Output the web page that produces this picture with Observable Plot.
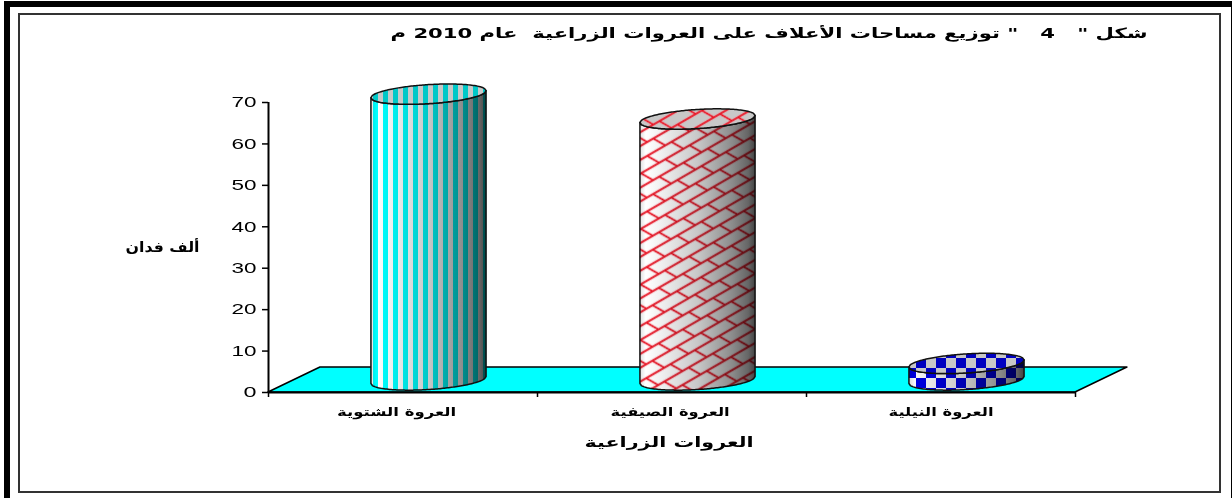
<!DOCTYPE html>
<html lang="ar">
<head>
<meta charset="utf-8">
<script src="https://cdn.jsdelivr.net/npm/d3@7"></script>
<script src="https://cdn.jsdelivr.net/npm/@observablehq/plot@0.6"></script>
<style>
  html, body { margin: 0; padding: 0; background: #fff; width: 1232px; height: 498px; overflow: hidden; }
  #sheet { position: absolute; left: 4px; top: 1px; right: -5px; bottom: -6px; border: 6px solid #000; box-sizing: border-box; }
  #panel { position: absolute; left: 18px; top: 13px; width: 1203px; height: 480px; box-sizing: border-box;
           border: 2px solid #333; }
  #chart { position: absolute; left: 0; top: 0; }
  #chart svg { background: transparent; overflow: visible; }
  .rtl text { direction: rtl; }
</style>
</head>
<body>
<div id="sheet"></div>
<div id="panel"></div>
<div id="chart"></div>
<script>
// Fodder area by agricultural season, thousand feddans
const categories = ["العروة الشتوية", "العروة الصيفية", "العروة النيلية"];
const values = [69, 63, 4];
const yTicks = [0, 10, 20, 30, 40, 50, 60, 70];
const categoryLabelAt = [0.476, 1.493, 2.5];
const chartTitle = 'شكل "   4   " توزيع مساحات الأعلاف على العروات الزراعية  عام 2010 م';
const xTitle = "العروات الزراعية";
const yTitle = "ألف فدان";
const bodyFills = ["url(#stripes)", "url(#bricks)", "url(#checks)"];
const capFills = ["url(#stripesCap)", "url(#bricksCap)", "url(#checksCap)"];

// Cylinder proportions, in axis units
const halfWidth = 0.214;
const capRadius = 2.3;
const capTilt = 0.85;
const floorDepthX = 0.193;
const floorDepthY = 6.03;
const liftX = 26, liftY = -12;

const params = d3.range(-1, 1.0001, 1 / 40);
const arc = (t) => capRadius * Math.sqrt(Math.max(0, 1 - t * t));

const bodyRows = [], capRows = [];
values.forEach((v, i) => {
  for (const t of params) {
    const x = i + 0.5 + t * halfWidth;
    const lean = capTilt * t;
    bodyRows.push({i, x, y1: lean - arc(t), y2: v + lean - arc(t)});
    capRows.push({i, x, y1: v + lean - arc(t), y2: v + lean + arc(t)});
  }
});

const floor = [
  {x: 0, y1: 0, y2: 0},
  {x: floorDepthX, y1: 0, y2: floorDepthY},
  {x: 3, y1: 0, y2: floorDepthY},
  {x: 3 + floorDepthX, y1: floorDepthY, y2: floorDepthY}
];

const lift = {dx: liftX, dy: liftY};
const cylinderMarks = values.flatMap((_, i) => {
  const body = bodyRows.filter((d) => d.i === i);
  const cap = capRows.filter((d) => d.i === i);
  const shape = {x: "x", y1: "y1", y2: "y2", ...lift};
  return [
    Plot.areaY(body, {...shape, fill: bodyFills[i]}),
    Plot.areaY(body, {...shape, fill: "url(#shade)", mixBlendMode: "multiply"}),
    Plot.areaY(body, {...shape, fill: "none", stroke: "#111", strokeWidth: 1.5}),
    Plot.areaY(cap, {...shape, fill: capFills[i], stroke: "#111", strokeWidth: 1.5})
  ];
});

const plot = Plot.plot({
  width: 1232,
  height: 498,
  marginLeft: 268,
  marginRight: 157,
  marginTop: 102,
  marginBottom: 106,
  style: {background: "transparent", color: "#000"},
  x: {domain: [0, 3]},
  y: {domain: [0, 70]},
  marks: [
    Plot.areaY(floor, {x: "x", y1: "y1", y2: "y2", fill: "#00ffff", stroke: "#000", strokeWidth: 1.5}),
    ...cylinderMarks,
    Plot.ruleX([0], {y1: 0, y2: 70, stroke: "#000", strokeWidth: 2}),
    Plot.ruleY([0], {x1: 0, x2: 3, stroke: "#000", strokeWidth: 2}),
    Plot.axisY({
      ticks: yTicks, tickSize: 6, tickPadding: 6, label: null,
      fontSize: 15, fontFamily: "Liberation Sans", className: "ticksY", strokeWidth: 1.5
    }),
    Plot.axisX({ticks: [0, 1, 2, 3], tickSize: 5, tickFormat: () => "", label: null, strokeWidth: 1.5}),
    Plot.axisX({
      ticks: categoryLabelAt, tickSize: 0, tickPadding: 15, label: null,
      tickFormat: (d, i) => categories[i],
      fontSize: 12, fontWeight: "bold", fontFamily: "DejaVu Sans", className: "ticksX"
    }),
    Plot.text([xTitle], {
      text: (d) => d, frameAnchor: "bottom", dx: -3, dy: 54,
      fontSize: 14, fontWeight: "bold", fontFamily: "DejaVu Sans", className: "xTitle"
    }),
    Plot.text([yTitle], {
      text: (d) => d, frameAnchor: "left", dx: -106, textAnchor: "middle",
      fontSize: 14, fontWeight: "bold", fontFamily: "DejaVu Sans", className: "yTitle"
    }),
    Plot.text([chartTitle], {
      text: (d) => d, frameAnchor: "top-right", dx: 72, dy: -74, textAnchor: "start",
      fontSize: 14, fontWeight: "bold", fontFamily: "DejaVu Sans", className: "rtl"
    })
  ]
});

// Fill patterns and the round-body shading referenced by the areas above
const defs = d3.select(plot).insert("defs", ":first-child");

function stripes(id, colorA, colorB) {
  const p = defs.append("pattern").attr("id", id).attr("patternUnits", "userSpaceOnUse")
    .attr("width", 10).attr("height", 10).attr("patternTransform", "translate(7,0)");
  p.append("rect").attr("width", 10).attr("height", 10).attr("fill", colorB);
  p.append("rect").attr("width", 5).attr("height", 10).attr("fill", colorA);
}
stripes("stripes", "#00ffff", "#ffffff");
stripes("stripesCap", "#00c8c8", "#c8c8c8");

function bricks(id, ground) {
  const p = defs.append("pattern").attr("id", id).attr("patternUnits", "userSpaceOnUse")
    .attr("width", 28).attr("height", 24).attr("patternTransform", "rotate(-30)");
  p.append("rect").attr("width", 28).attr("height", 24).attr("fill", ground);
  const mortar = "M0 0H28M0 12H28M0 24H28M6 0L13 12M20 12L27 24";
  p.append("path").attr("fill", "none").attr("stroke", "#ff7080").attr("stroke-opacity", 0.5).attr("stroke-width", 3).attr("d", mortar);
  p.append("path").attr("fill", "none").attr("stroke", "#e80818").attr("stroke-width", 1.4).attr("d", mortar);
}
bricks("bricks", "#ffffff");
bricks("bricksCap", "#c8c8c8");

function checks(id, light, dark) {
  const p = defs.append("pattern").attr("id", id).attr("patternUnits", "userSpaceOnUse")
    .attr("width", 20).attr("height", 20);
  p.append("rect").attr("width", 20).attr("height", 20).attr("fill", light);
  p.append("rect").attr("width", 10).attr("height", 10).attr("fill", dark);
  p.append("rect").attr("x", 10).attr("y", 10).attr("width", 10).attr("height", 10).attr("fill", dark);
}
checks("checks", "#f8f8f8", "#0000e0");
checks("checksCap", "#c8c8c8", "#0000c0");

const shade = defs.append("linearGradient").attr("id", "shade").attr("x1", 0).attr("x2", 1).attr("y1", 0).attr("y2", 0);
[[0, "#e0e0e0"], [0.05, "#ffffff"], [0.2, "#eeeeee"], [0.5, "#c8c8c8"], [0.8, "#8c8c8c"], [0.94, "#666666"], [1, "#444444"]]
  .forEach(([o, c]) => shade.append("stop").attr("offset", o).attr("stop-color", c));

// Stretched lettering widths
const fit = (selector, widths) => d3.select(plot).selectAll(selector)
  .attr("lengthAdjust", "spacingAndGlyphs")
  .attr("textLength", (_, i) => widths[i]);
fit(".ticksY text", yTicks.map((t) => (t === 0 ? 13 : 25)));
fit(".ticksX text", [119, 119, 105]);
fit(".xTitle text", [169]);
fit(".yTitle text", [74]);
fit(".rtl text", [757]);

document.getElementById("chart").append(plot);
</script>
</body>
</html>
